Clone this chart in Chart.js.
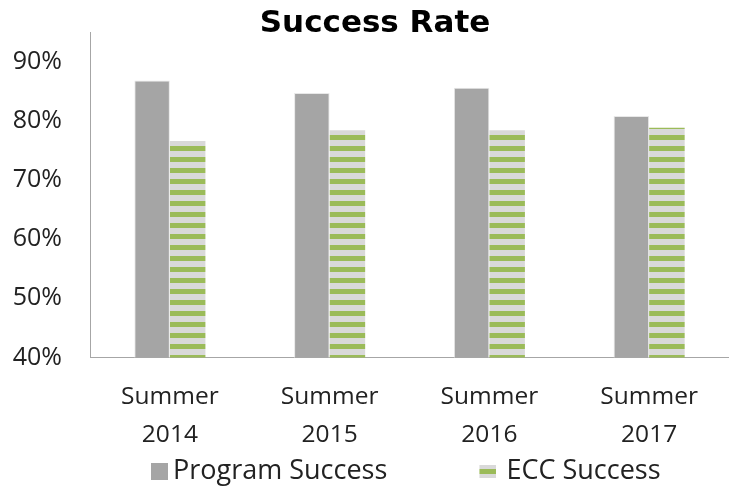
<!DOCTYPE html>
<html><head><meta charset="utf-8">
<script src="https://cdn.jsdelivr.net/npm/chart.js@4"></script>
<style>html,body{margin:0;padding:0;background:#fff}#wrap{width:729px;height:486px}</style>
</head><body><div id="wrap"><canvas id="c" width="729" height="486"></canvas></div>
<script>
const categories = [["Summer","2014"],["Summer","2015"],["Summer","2016"],["Summer","2017"]];
const programSuccess = [0.868, 0.847, 0.856, 0.808];
const eccSuccess = [0.766, 0.784, 0.784, 0.788];
const seriesNames = ["Program Success", "ECC Success"];
const yTicks = [0.4, 0.5, 0.6, 0.7, 0.8, 0.9];

const ctx0 = document.getElementById('c').getContext('2d');
function stripePattern(){
  const p = document.createElement('canvas'); p.width = 8; p.height = 11;
  const g = p.getContext('2d');
  g.fillStyle = '#D9D9D9'; g.fillRect(0,0,8,11);
  g.fillStyle = '#9BBB59'; g.fillRect(0,3,8,5);
  return ctx0.createPattern(p,'repeat');
}
function legendIcon(kind){
  const p = document.createElement('canvas');
  const g = p.getContext('2d');
  if(kind===0){ p.width = 87; p.height = 17; g.fillStyle='#A5A5A5'; g.fillRect(70,0,17,17); }
  else { p.width = 77; p.height = 13; g.fillStyle='#D9D9D9'; g.fillRect(60,0,17,13); g.fillStyle='#9BBB59'; g.fillRect(60,4,17,5); }
  return p;
}
const pat = stripePattern();
const legendGap = ['\u00a0\u00a0\u00a0\u00a0\u00a0', ''];
new Chart(document.getElementById('c'), {
  type: 'bar',
  data: {
    labels: categories,
    datasets: [
      {label: seriesNames[0], data: programSuccess, backgroundColor: '#A5A5A5', borderColor: '#E8E8E8', borderWidth: 1, pointStyle: legendIcon(0), categoryPercentage: 0.445, barPercentage: 1},
      {label: seriesNames[1], data: eccSuccess, backgroundColor: pat, borderWidth: 0, pointStyle: legendIcon(1), categoryPercentage: 0.445, barPercentage: 1}
    ]
  },
  options: {
    responsive: false, animation: false, devicePixelRatio: 1,
    layout: {padding: {left: 12, right: -9, top: 0, bottom: -9}},
    plugins: {
      title: {display: true, text: 'Success Rate', color: '#000', font: {family: 'DejaVu Sans', size: 31, weight: 'bold', lineHeight: 1.0}, padding: {top: 8, bottom: -7}},
      legend: {position: 'bottom', labels: {usePointStyle: true, pointStyleWidth: 70, color: '#222', font: {family: 'Open Sans', size: 27}, padding: 0.5, boxHeight: 17,
        generateLabels: (chart) => Chart.defaults.plugins.legend.labels.generateLabels(chart).map((l, i) => Object.assign(l, {text: l.text + legendGap[i]}))}},
      tooltip: {enabled: false}
    },
    scales: {
      y: {
        min: 0.4, max: 0.95,
        afterBuildTicks: s => { s.ticks = yTicks.map(v => ({value: v})); },
        afterFit: s => { s.width = 78; s.paddingTop = 0; s.paddingBottom = 0; },
        ticks: {callback: v => Math.round(v*100) + '%', color: '#222', font: {family: 'Open Sans', size: 25}, padding: 28},
        grid: {display: false, drawTicks: false},
        border: {display: true, color: '#A6A6A6', width: 1}
      },
      x: {
        afterFit: s => { s.height = 100; s.paddingLeft = 0; s.paddingRight = 0; },
        ticks: {color: '#222', font: {family: 'Open Sans', size: 24.5, lineHeight: 1.55}, padding: 21, maxRotation: 0},
        grid: {display: false, drawTicks: false},
        border: {display: true, color: '#A6A6A6', width: 1}
      }
    }
  }
});
</script></body></html>
